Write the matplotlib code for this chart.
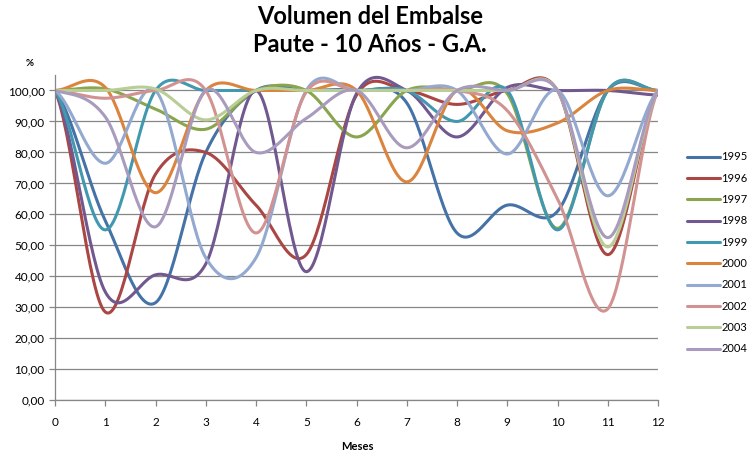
import numpy as np
import matplotlib
matplotlib.use("Agg")
import matplotlib.pyplot as plt

plt.rcParams['font.family'] = ['Lato', 'DejaVu Sans']

meses = list(range(13))
anios = ['1995', '1996', '1997', '1998', '1999', '2000', '2001', '2002', '2003', '2004']

v1995 = [100, 58, 31.5, 80, 100, 100, 100, 96, 54, 63, 61, 100, 100]
v1996 = [100, 28.5, 73, 80, 63, 47, 98.5, 100, 95.5, 100, 100, 47, 100]
v1997 = [100, 100.5, 94, 87.5, 100, 100, 85, 100, 100, 99, 55.5, 100, 100]
v1998 = [100, 35, 40.5, 44, 100, 41.5, 99, 100, 85, 101, 100, 100, 98.5]
v1999 = [100, 55, 100, 100, 100, 100, 100, 100, 90, 100, 55, 100, 100]
v2000 = [100, 101, 67, 100, 100, 100, 100, 70.5, 100, 87, 89.5, 100, 100]
v2001 = [100, 76.5, 100, 46, 46, 100, 100, 100, 100, 79.5, 100, 66, 100]
v2002 = [100, 97.5, 100, 100, 54, 99.5, 100, 100, 100, 93.5, 65, 29.5, 100]
v2003 = [100, 100, 100.5, 90.5, 100, 100, 100, 100, 100, 100, 100, 49.5, 100]
v2004 = [100, 91.5, 56, 100, 80, 91, 100, 81.5, 100, 100, 100, 52.5, 100]

series = [v1995, v1996, v1997, v1998, v1999, v2000, v2001, v2002, v2003, v2004]
colores = ['#4572A7', '#AA4643', '#89A54E', '#71588F', '#4198AF',
           '#DB843D', '#93A9CF', '#D19392', '#B9CD96', '#A99BBD']


def suavizar(x, y, n=30):
    # curva tipo Excel (catmull-rom)
    y = np.asarray(y, dtype=float)
    yp = np.concatenate([[y[0]], y, [y[-1]]])
    xs, ys = [], []
    for i in range(len(y) - 1):
        p0, p1, p2, p3 = yp[i], yp[i + 1], yp[i + 2], yp[i + 3]
        m1 = (p2 - p0) / 2
        m2 = (p3 - p1) / 2
        t = np.linspace(0, 1, n, endpoint=(i == len(y) - 2))
        h00 = 2 * t**3 - 3 * t**2 + 1
        h10 = t**3 - 2 * t**2 + t
        h01 = -2 * t**3 + 3 * t**2
        h11 = t**3 - t**2
        ys.append(h00 * p1 + h10 * m1 + h01 * p2 + h11 * m2)
        xs.append(x[i] + t * (x[i + 1] - x[i]))
    return np.concatenate(xs), np.concatenate(ys)


fig = plt.figure(figsize=(7.52, 4.63), dpi=100)
ax = fig.add_axes([55 / 752, 1 - 400.3 / 463, 603 / 752, (400.3 - 75) / 463])

for nombre, vals, c in zip(anios, series, colores):
    xs, ys = suavizar(meses, vals)
    ax.plot(xs, ys, color=c, lw=2.2, label=nombre, solid_capstyle='round')

gris = '#868686'
ax.set_xlim(0, 12)
ax.set_ylim(0, 105)
ax.set_xticks(meses)
ax.set_yticks(np.arange(0, 101, 10))
ax.set_yticklabels([('%.2f' % v).replace('.', ',') for v in np.arange(0, 101, 10)])
ax.yaxis.grid(True, color=gris, lw=0.9)
ax.set_axisbelow(True)
for s in ['top', 'right']:
    ax.spines[s].set_visible(False)
for s in ['left', 'bottom']:
    ax.spines[s].set_color(gris)
    ax.spines[s].set_linewidth(0.9)
ax.tick_params(colors=gris, labelcolor='black', labelsize=8.5, length=4, width=0.9)
ax.tick_params(axis='x', pad=8)

ax.legend(loc='upper left', bbox_to_anchor=(683 / 752, 1 - 147 / 463),
          bbox_transform=fig.transFigure, frameon=False, fontsize=8,
          handlelength=2.9, handletextpad=0.15, labelspacing=0.93,
          borderaxespad=0)

fig.text(370 / 752, 1 - 17 / 463, 'Volumen del Embalse', ha='center', va='center',
         fontsize=17, fontweight='bold')
fig.text(370 / 752, 1 - 45 / 463, 'Paute - 10 Años - G.A.', ha='center', va='center',
         fontsize=17, fontweight='bold')
fig.text(30 / 752, 1 - 64 / 463, '%', ha='center', va='center', fontsize=7, fontweight='bold')
fig.text(357 / 752, 1 - 447 / 463, 'Meses', ha='center', va='center', fontsize=8, fontweight='bold')

fig.savefig('out.png', dpi=100)
